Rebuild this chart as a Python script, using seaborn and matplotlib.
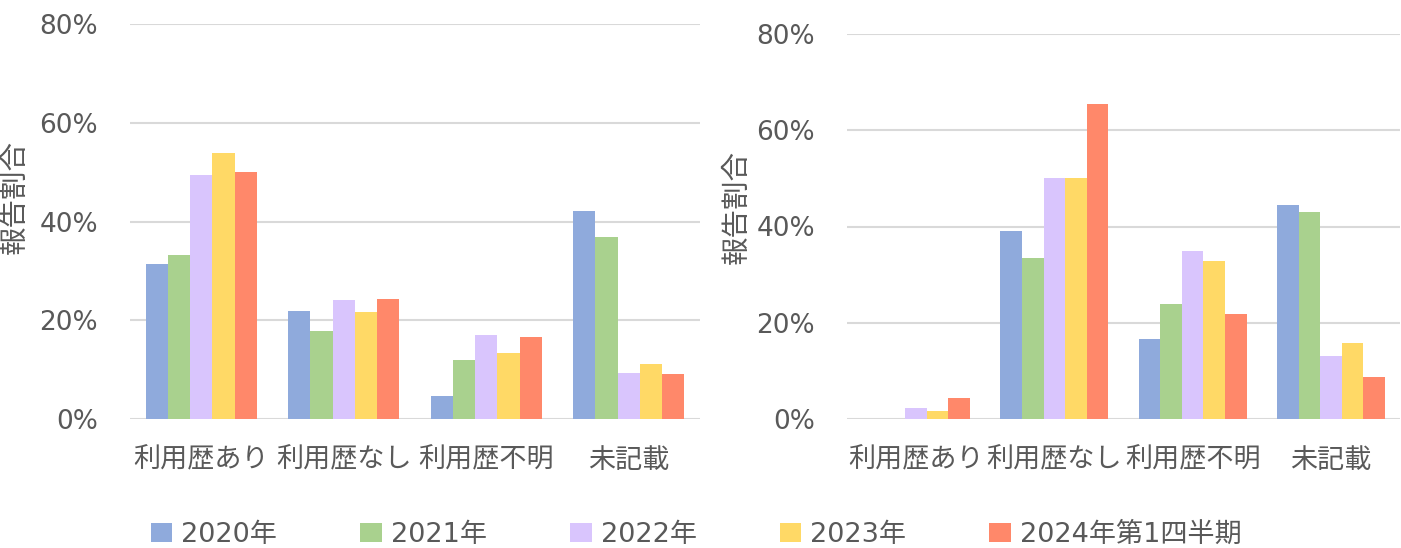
import matplotlib
matplotlib.use("Agg")
import matplotlib.pyplot as plt
import seaborn as sns
import pandas as pd
from matplotlib.ticker import FuncFormatter
from matplotlib.patches import Patch

categories = ["利用歴あり", "利用歴なし", "利用歴不明", "未記載"]
series = ["2020年", "2021年", "2022年", "2023年", "2024年第1四半期"]

# left panel (%), per series across categories
left_2020 = [31.3, 21.9, 4.7, 42.2]
left_2021 = [33.3, 17.9, 11.9, 36.9]
left_2022 = [49.5, 24.2, 17.0, 9.3]
left_2023 = [53.9, 21.6, 13.4, 11.2]
left_2024q1 = [50.1, 24.3, 16.7, 9.1]

# right panel (%)
right_2020 = [0.0, 39.0, 16.7, 44.5]
right_2021 = [0.0, 33.4, 23.8, 43.0]
right_2022 = [2.2, 50.0, 34.9, 13.0]
right_2023 = [1.6, 50.0, 32.9, 15.7]
right_2024q1 = [4.4, 65.5, 21.8, 8.8]

yticks = [0, 20, 40, 60, 80]
ylabel = "報告割合"

colors = ["#8FAADC", "#A9D18E", "#D9C5FD", "#FFD966", "#FF886A"]
text_color = "#595959"
grid_color = "#D9D9D9"


def to_long(cols):
    rows = []
    for s, vals in zip(series, cols):
        for c, v in zip(categories, vals):
            rows.append({"category": c, "series": s, "value": v})
    return pd.DataFrame(rows)


df_left = to_long([left_2020, left_2021, left_2022, left_2023, left_2024q1])
df_right = to_long([right_2020, right_2021, right_2022, right_2023, right_2024q1])

sns.set_theme(style="white")
plt.rcParams["font.family"] = ["DejaVu Sans", "Noto Sans CJK JP"]

W, H = 1401, 548
fig = plt.figure(figsize=(W / 100, H / 100), dpi=100)
ax1 = fig.add_axes([130 / W, 129 / H, 570 / W, 395 / H])
ax2 = fig.add_axes([847 / W, 129 / H, 553 / W, 385 / H])

for ax, df, lab_xy in [(ax1, df_left, (-0.202, 0.562)), (ax2, df_right, (-0.199, 0.551))]:
    sns.barplot(data=df, x="category", y="value", hue="series", order=categories,
                hue_order=series, palette=colors, width=0.78, ax=ax,
                saturation=1, legend=False, edgecolor="none")
    ax.set_ylim(0, 80)
    ax.set_xlim(-0.5, 3.5)
    ax.set_yticks(yticks)
    ax.yaxis.set_major_formatter(FuncFormatter(lambda v, p: f"{v:.0f}%"))
    ax.grid(axis="y", color=grid_color, linewidth=1.5)
    ax.set_axisbelow(True)
    for sp in ax.spines.values():
        sp.set_visible(False)
    ax.tick_params(axis="y", length=0, pad=23, labelsize=19, labelcolor=text_color)
    ax.tick_params(axis="x", length=0, pad=20, labelsize=19.5, labelcolor=text_color)
    for t in ax.get_xticklabels():
        t.set_fontfamily(["Noto Sans CJK JP", "DejaVu Sans"])
    ax.set_xlabel("")
    ax.set_ylabel(ylabel, fontsize=20.5, color=text_color,
                  fontfamily=["Noto Sans CJK JP", "DejaVu Sans"])
    ax.yaxis.label.set_verticalalignment("center")
    ax.yaxis.set_label_coords(*lab_xy)

handles = [Patch(facecolor=c, edgecolor="none") for c in colors]
fig.legend(handles, series, loc="center left", bbox_to_anchor=(137 / W, 13 / H),
           ncol=5, frameon=False, fontsize=19.5, handlelength=0.8, handleheight=0.65,
           handletextpad=0.33, columnspacing=3.07, borderpad=0, labelcolor=text_color)

fig.savefig("out.png", dpi=100)
